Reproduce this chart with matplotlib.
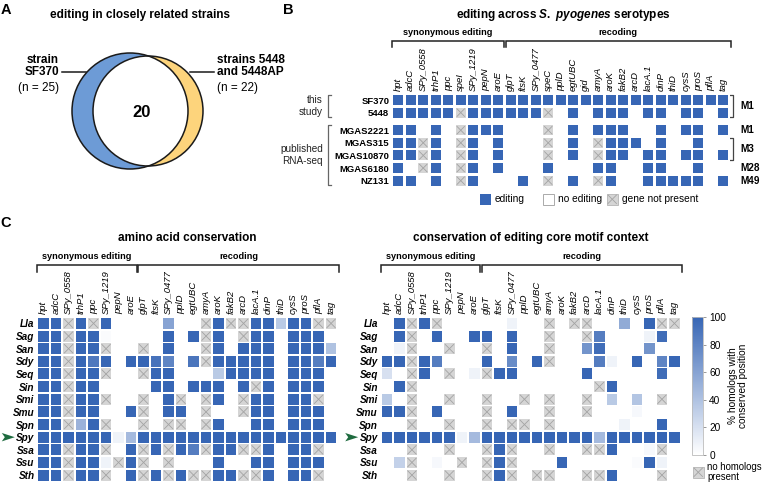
import numpy as np
import matplotlib
matplotlib.use('Agg')
import matplotlib.pyplot as plt
from matplotlib.patches import Rectangle, Circle, Polygon
from matplotlib.colors import LinearSegmentedColormap, Normalize
import matplotlib.cm as cm

plt.rcParams['font.family'] = ['Liberation Sans', 'DejaVu Sans']
plt.rcParams['mathtext.fontset'] = 'custom'
plt.rcParams['mathtext.it'] = 'Liberation Sans:italic:bold'
plt.rcParams['mathtext.rm'] = 'Liberation Sans:bold'
plt.rcParams['mathtext.bf'] = 'Liberation Sans:bold'

N = np.nan

# ---------------- data ----------------
# Panel A (Venn)
venn_left_label = 'strain\nSF370'
venn_right_label = 'strains 5448\nand 5448AP'
venn_left_n = 25
venn_right_n = 22
venn_shared = 20

# Panel B
b_genes = ['hpt', 'adcC', 'SPy_0558', 'trhP1', 'ppc', 'speI', 'SPy_1219', 'pepN', 'aroE',
           'glpT', 'ftsK', 'SPy_0477', 'speC', 'pplD', 'egtUBC', 'gid', 'amyA', 'aroK',
           'fakB2', 'arcD', 'lacA.1', 'dinP', 'thiD', 'cysS', 'proS', 'pflA', 'tag']
b_n_syn = 9
b_strains = ['SF370', '5448', 'MGAS2221', 'MGAS315', 'MGAS10870', 'MGAS6180', 'NZ131']
b_sources = [('this\nstudy', 0, 1), ('published\nRNA-seq', 2, 6)]
b_serotypes = [('M1', 0, 1), ('M1', 2, 2), ('M3', 3, 4), ('M28', 5, 5), ('M49', 6, 6)]
b_editing = [
    [1] * 27,
    [1, 1, 1, 1, 1, N, 1, 1, 1, 1, 1, 1, N, 0, 1, 0, 1, 1, 1, 0, 1, 1, 0, 1, 1, 0, 1],
    [1, 1, 0, 1, 0, N, 1, 1, 1, 0, 0, 0, N, 0, 1, 0, 1, 1, 1, 0, 0, 1, 0, 1, 1, 0, 1],
    [1, 1, N, 1, 0, N, 1, 0, 1, 0, 0, 0, N, 0, 1, 0, N, 1, 1, 1, 0, 1, 0, 0, 1, 0, 0],
    [1, 1, N, 1, 0, N, 1, 0, 1, 0, 0, 0, N, 0, 1, 0, N, 1, 1, 0, 1, 1, 0, 1, 1, 0, 1],
    [1, 0, N, 1, 0, N, 1, 0, 1, 0, 0, 0, 1, 0, 0, 0, 1, 1, 0, 0, 1, 1, 0, 0, 1, 0, 0],
    [1, 1, 0, 1, 0, N, 1, 0, 0, 0, 1, 0, N, 0, 1, 0, N, 1, 0, 0, 1, 1, 1, 1, 1, 0, 1],
]
b_legend = ['editing', 'no editing', 'gene not present']

# Panel C
c_genes = ['hpt', 'adcC', 'SPy_0558', 'trhP1', 'ppc', 'SPy_1219', 'pepN', 'aroE',
           'glpT', 'ftsK', 'SPy_0477', 'pplD', 'egtUBC', 'amyA', 'aroK', 'fakB2',
           'arcD', 'lacA.1', 'dinP', 'thiD', 'cysS', 'proS', 'pflA', 'tag']
c_n_syn = 8
c_species = ['Lla', 'Sag', 'San', 'Sdy', 'Seq', 'Sin', 'Smi', 'Smu', 'Spn', 'Spy', 'Ssa', 'Ssu', 'Sth']
c_highlight = 'Spy'
c_aa = [
    [100, 100, N, 100, N, 100, 0, 0, 0, 0, 60, 0, 0, N, 100, N, N, 100, 100, 35, 100, 100, N, N],
    [100, 100, N, 100, 100, 3, 0, 0, 0, 0, 100, 0, 100, N, 100, 0, N, 100, 100, 0, 100, 100, 100, 0],
    [100, 100, N, 100, 100, N, 0, 0, N, 0, 100, 0, 0, N, 100, 0, 100, 100, 100, 0, 100, 100, 100, 40],
    [100, 100, N, 100, 88, 100, 0, 100, 100, 92, 80, 0, 90, N, 100, 100, 100, 100, 100, 0, 100, 100, 85, 100],
    [100, 100, N, 100, 100, N, 0, 0, N, 100, 100, 0, 0, 0, 35, 100, 100, 100, 100, 0, 100, 100, 100, 0],
    [100, 100, N, 100, 100, 0, 0, 0, 0, 100, 100, 0, 100, 100, 100, 0, 100, N, 100, 0, 100, 100, 100, 0],
    [100, 100, N, 100, 100, N, 0, 0, N, 0, 100, N, 0, N, 100, 0, N, 100, 100, 0, 100, 100, N, 0],
    [100, 100, N, 100, 100, 0, 0, 100, N, 0, 100, 100, 0, N, 0, 0, N, 100, 100, 0, 100, 100, 100, 0],
    [100, 100, N, 50, 100, N, 0, 0, N, 0, N, N, 0, N, 100, 0, 0, 100, 100, 0, 100, 100, 100, 0],
    [100, 100, 100, 100, 100, 100, 8, 45, 100, 100, 100, 100, 100, 100, 100, 100, 100, 100, 100, 100, 100, 100, 100, 100],
    [100, 100, N, 100, 100, N, 0, 100, N, 100, N, 100, 85, N, 100, 100, N, N, 100, 0, 100, 100, N, 0],
    [100, 100, N, 100, 100, 8, N, 100, N, 0, N, 0, 0, 0, 100, 0, 0, 100, 100, 0, 100, 100, 100, 0],
    [100, 100, N, 100, 100, N, 0, 100, N, 100, N, 100, N, N, 100, 100, N, N, 100, 0, 100, 100, N, 0],
]
c_motif = [
    [0, 100, N, 100, N, 0, 0, 0, 0, 0, 8, 0, 0, N, 0, N, N, 0, 0, 55, 0, 100, N, N],
    [0, 100, N, 0, 100, 0, 0, 100, 100, 0, 100, 0, 0, N, 0, 0, N, 85, 0, 0, 0, 8, 95, 0],
    [0, 8, N, 0, 0, N, 0, 0, N, 0, 100, 0, 0, N, 0, 0, 70, 95, 0, 0, 0, 70, 0, 0],
    [100, 100, N, 100, 85, 0, 0, 0, 100, 0, 75, 0, 100, N, 0, 0, 0, 85, 8, 0, 100, 0, 80, 100],
    [20, 0, N, 100, 0, N, 0, 8, N, 100, 100, 0, 0, 0, 0, 0, 100, 0, 0, 0, 0, 0, 95, 0],
    [0, 100, N, 0, 0, 0, 0, 0, 0, 0, 0, 0, 0, 0, 0, 0, 0, N, 100, 0, 0, 0, 0, 0],
    [35, 0, N, 0, 0, N, 0, 0, N, 0, 0, N, 0, N, 0, 0, N, 0, 35, 0, 38, 0, N, 0],
    [100, 100, N, 0, 100, 0, 0, 0, N, 0, 100, 0, 0, N, 0, 0, N, 0, 0, 0, 5, 0, 0, 0],
    [0, 0, N, 0, 0, N, 0, 0, N, 0, N, N, 0, N, 0, 0, 0, 0, 0, 8, 0, 0, 100, 0],
    [100, 100, 100, 100, 100, 100, 8, 45, 100, 100, 100, 100, 100, 100, 100, 100, 100, 45, 100, 100, 100, 100, 100, 100],
    [0, 0, N, 0, 0, N, 0, 0, N, 100, N, 0, 0, N, 0, 0, N, N, 100, 0, 0, 5, N, 0],
    [0, 30, N, 0, 5, 0, N, 0, N, 100, N, 0, 0, 0, 100, 0, 0, 0, 0, 0, 3, 100, 8, 0],
    [0, 0, N, 0, 0, N, 0, 0, N, 100, N, 0, N, N, 0, 0, N, N, 100, 0, 0, 0, N, 0],
]
cbar_ticks = [0, 20, 40, 60, 80, 100]

# ---------------- style ----------------
W, H = 763, 486
BLUE = '#3766b5'
GRAY = '#d5d5d5'
XCOL = '#a3a3a3'
VBLUE = '#6d9bd6'
VYEL = '#fdd47c'
GREEN = '#1e6b3f'
cmap = LinearSegmentedColormap.from_list('cons', ['#ffffff', BLUE])
norm = Normalize(0, 100)

fig = plt.figure(figsize=(W / 100, H / 100), dpi=100)
ov = fig.add_axes([0, 0, 1, 1])
ov.set_xlim(0, W)
ov.set_ylim(H, 0)
ov.axis('off')


def px_axes(x0, y0, x1, y1):
    return fig.add_axes([x0 / W, 1 - y1 / H, (x1 - x0) / W, (y1 - y0) / H])


def draw_cells(ax, M, ypos, colorfn, g=0.14):
    w = 1 - g
    for i, row in enumerate(M):
        for j, v in enumerate(row):
            x, y = j + g / 2, ypos[i] + g / 2
            if np.isnan(v):
                ax.add_patch(Rectangle((x, y), w, w, facecolor=GRAY, edgecolor='none'))
                e = 0.1
                ax.plot([x + e, x + w - e], [y + e, y + w - e], color=XCOL, lw=0.6)
                ax.plot([x + e, x + w - e], [y + w - e, y + e], color=XCOL, lw=0.6)
            elif v > 0:
                ax.add_patch(Rectangle((x, y), w, w, facecolor=colorfn(v), edgecolor='none'))


def setup_heat(ax, genes, rows, ypos, nrows_span, label_fs=6.8, row_fs=7.2):
    ax.set_xlim(0, len(genes))
    ax.set_ylim(nrows_span, 0)
    ax.xaxis.set_ticks_position('top')
    ax.set_xticks(np.arange(len(genes)) + 0.5)
    ax.set_xticklabels(genes, rotation=90, fontstyle='italic', fontsize=label_fs)
    ax.set_yticks(np.array(ypos) + 0.5)
    ax.set_yticklabels(rows, fontsize=row_fs, fontweight='bold')
    ax.tick_params(length=0, pad=2)
    for s in ax.spines.values():
        s.set_visible(False)


def top_bracket(x0, x1, y, label, fs=6.6):
    ov.plot([x0, x0, x1, x1], [y + 6.5, y, y, y + 6.5], color='#222222', lw=1.1,
            solid_joinstyle='miter')
    ov.text((x0 + x1) / 2, y - 4, label, ha='center', va='bottom', fontsize=fs,
            fontweight='bold')


# ---------------- Panel A ----------------
ov.text(6, 10, 'A', fontsize=10.5, fontweight='bold', ha='center', va='center')
ov.text(140, 15, 'editing in closely related strains', fontsize=8.5, fontweight='bold',
        ha='center', va='center')
cL = Circle((130, 111), 58, facecolor=VBLUE, edgecolor='none')
cR = Circle((148, 111), 55, facecolor=VYEL, edgecolor='none')
ov.add_patch(cL)
ov.add_patch(cR)
inter = Circle((148, 111), 55, facecolor='white', edgecolor='none')
ov.add_patch(inter)
inter.set_clip_path(cL)
ov.add_patch(Circle((130, 111), 58, facecolor='none', edgecolor='#1a1a1a', lw=1.1))
ov.add_patch(Circle((148, 111), 55, facecolor='none', edgecolor='#1a1a1a', lw=1.1))
ov.text(142, 112, str(venn_shared), fontsize=12, fontweight='bold', ha='center', va='center')
ov.text(59, 66, venn_left_label, fontsize=8.5, fontweight='bold', ha='right', va='center',
        linespacing=1.0)
ov.text(59, 88, f'(n = {venn_left_n})', fontsize=8.5, ha='right', va='center')
ov.plot([62, 86], [72, 72], color='#1a1a1a', lw=1.1)
ov.text(217, 66, venn_right_label, fontsize=8.5, fontweight='bold', ha='left', va='center',
        linespacing=1.0)
ov.text(217, 88, f'(n = {venn_right_n})', fontsize=8.5, ha='left', va='center')
ov.plot([190, 214], [72, 72], color='#1a1a1a', lw=1.1)

# ---------------- Panel B ----------------
ov.text(288, 10, 'B', fontsize=10.5, fontweight='bold', ha='center', va='center')
ov.text(563, 15, r'editing across $\mathit{S.\ pyogenes}$ serotypes', fontsize=8.5,
        fontweight='bold', ha='center', va='center')
bx0, bpitch, by0, brp = 392.0, 12.5, 93.7, 12.6
b_ypos = []
for i in range(len(b_strains)):
    extra = 0.4 if i >= b_sources[1][1] else 0.0
    b_ypos.append(i + extra)
b_span = b_ypos[-1] + 1
axB = px_axes(bx0, by0, bx0 + len(b_genes) * bpitch, by0 + b_span * brp)
setup_heat(axB, b_genes, b_strains, b_ypos, b_span, row_fs=6.8)
draw_cells(axB, b_editing, b_ypos, lambda v: BLUE, g=0.2)
top_bracket(bx0, bx0 + b_n_syn * bpitch - 0.5, 41, 'synonymous editing')
top_bracket(bx0 + b_n_syn * bpitch + 1.5, bx0 + len(b_genes) * bpitch + 1, 41, 'recoding')
# source brackets (left)
for lab, r0, r1 in b_sources:
    yt = by0 + b_ypos[r0] * brp + 1.5
    yb = by0 + (b_ypos[r1] + 1) * brp - 1.5
    ov.plot([331, 328, 328, 331], [yt, yt, yb, yb], color='#666666', lw=0.9)
    ov.text(323, (yt + yb) / 2, lab, ha='right', va='center', fontsize=7.2,
            linespacing=1.25, color='#222222')
# serotype labels (right)
for lab, r0, r1 in b_serotypes:
    yt = by0 + b_ypos[r0] * brp + 1.5
    yb = by0 + (b_ypos[r1] + 1) * brp - 1.5
    if r1 > r0:
        ov.plot([729, 733, 733, 729], [yt, yt, yb, yb], color='#444444', lw=0.9)
    ov.text(740, (yt + yb) / 2, lab, ha='left', va='center', fontsize=7.2, fontweight='bold')
# legend B
ly = 199
ov.add_patch(Rectangle((480, ly - 5), 10.5, 10.5, facecolor=BLUE, edgecolor='none'))
ov.text(495, ly, b_legend[0], fontsize=7.3, va='center', ha='left')
ov.add_patch(Rectangle((543, ly - 5), 10.5, 10.5, facecolor='white', edgecolor='#aaaaaa', lw=0.7))
ov.text(558, ly, b_legend[1], fontsize=7.3, va='center', ha='left')
ov.add_patch(Rectangle((607, ly - 5), 10.5, 10.5, facecolor=GRAY, edgecolor='#aaaaaa', lw=0.5))
ov.plot([608, 616.5], [ly - 4, ly + 4.5], color=XCOL, lw=0.6)
ov.plot([608, 616.5], [ly + 4.5, ly - 4], color=XCOL, lw=0.6)
ov.text(622, ly, b_legend[2], fontsize=7.3, va='center', ha='left')

# ---------------- Panel C ----------------
ov.text(6, 223, 'C', fontsize=10.5, fontweight='bold', ha='center', va='center')
cpitch, cy0, crp = 12.5, 317.1, 12.64
c_ypos = list(range(len(c_species)))
spy_i = c_species.index(c_highlight)
for x0, M, title in [(37.3, c_aa, 'amino acid conservation'),
                     (380.7, c_motif, 'conservation of editing core motif context')]:
    x1 = x0 + len(c_genes) * cpitch
    ax = px_axes(x0, cy0, x1, cy0 + len(c_species) * crp)
    setup_heat(ax, c_genes, c_species, c_ypos, len(c_species), row_fs=7.2)
    for t in ax.get_yticklabels():
        t.set_fontstyle('italic')
    draw_cells(ax, M, c_ypos, lambda v: cmap(norm(v)), g=0.13)
    top_bracket(x0, x0 + c_n_syn * cpitch - 0.5, 265, 'synonymous editing')
    top_bracket(x0 + c_n_syn * cpitch + 1.0, x1 + 1.5, 265, 'recoding')
    ov.text((x0 + x1) / 2, 238, title, fontsize=8.5,
            fontweight='bold', ha='center', va='center')
    # highlight arrow
    yc = cy0 + (spy_i + 0.5) * crp
    xa = x0 - 35.5
    ov.add_patch(Polygon([[xa, yc - 4.2], [xa + 13, yc], [xa, yc + 4.2], [xa + 3, yc]],
                         closed=True, facecolor=GREEN, edgecolor='none'))

# colorbar
cax = px_axes(692, 317, 703, 455)
cb = fig.colorbar(cm.ScalarMappable(norm=norm, cmap=cmap), cax=cax, ticks=cbar_ticks)
cb.outline.set_edgecolor('#bbbbbb')
cb.outline.set_linewidth(0.6)
cax.tick_params(labelsize=7.3, length=2.5, width=0.6, color='#888888', pad=2)
ov.text(738, 386, '% homologs with\nconserved position', rotation=90, fontsize=7.3,
        ha='center', va='center', linespacing=1.1)
ov.add_patch(Rectangle((693, 467), 10.5, 10.5, facecolor=GRAY, edgecolor='#aaaaaa', lw=0.5))
ov.plot([694, 702.5], [468, 476.5], color=XCOL, lw=0.6)
ov.plot([694, 702.5], [476.5, 468], color=XCOL, lw=0.6)
ov.text(707, 472, 'no homologs\npresent', fontsize=6.9, ha='left', va='center', linespacing=1.05)

fig.savefig('out.png', dpi=100)
